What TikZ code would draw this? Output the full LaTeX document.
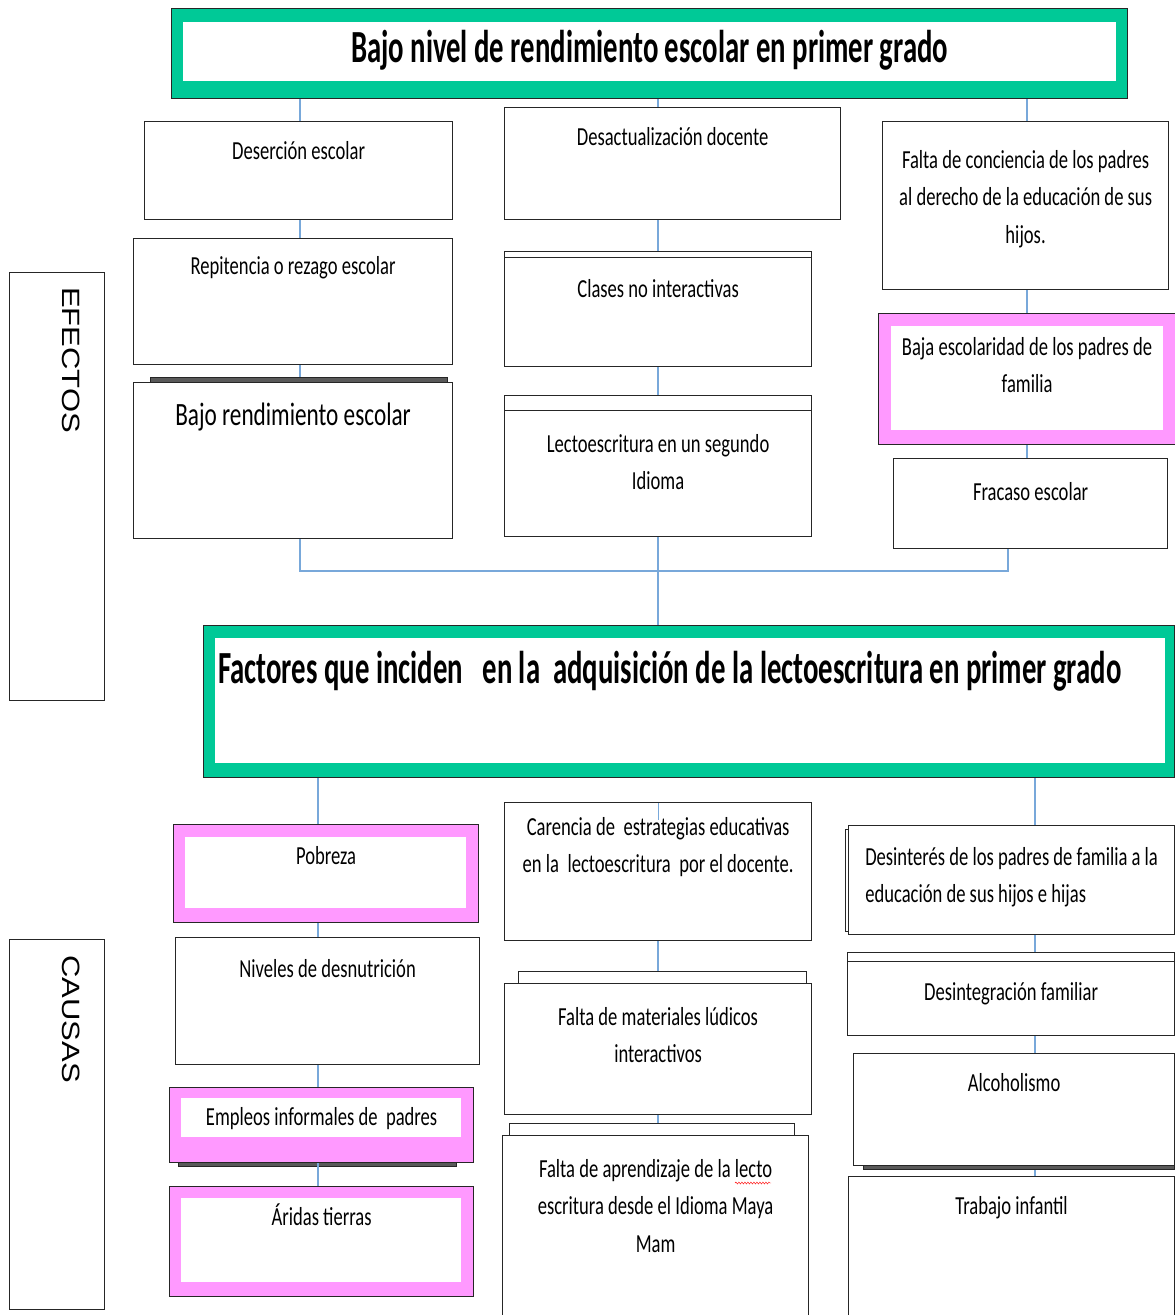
\documentclass[tikz,border=0pt]{standalone}
\usepackage{fontspec}
\setmainfont{Carlito}[FakeStretch=0.715]
\newfontfamily\headfont{Carlito}[FakeStretch=0.625]
\newfontfamily\sidefont{Liberation Sans}[FakeStretch=1.24]
\usetikzlibrary{decorations.pathmorphing}
\definecolor{titlegreen}{RGB}{0,201,151}
\definecolor{boxpink}{RGB}{255,153,255}
\definecolor{linkblue}{RGB}{120,168,218}

\begin{document}
\begin{tikzpicture}[x=1pt, y=-1pt,
  box/.style={draw=black!85, line width=1.2pt, fill=white, anchor=north west, inner sep=0pt},
  pinkbox/.style={box, fill=boxpink},
  greenbox/.style={box, fill=titlegreen},
  shadowbox/.style={box, fill=black!65},
  txt/.style={anchor=north, inner sep=0pt, align=center, font=\fontsize{26}{37.5}\selectfont},
  headtxt/.style={inner sep=0pt, font=\headfont\bfseries\fontsize{46}{50}\selectfont},
  sidetxt/.style={inner sep=0pt, rotate=-90, anchor=west, font=\sidefont\fontsize{25}{30}\selectfont},
  link/.style={draw=linkblue, line width=2pt}]
  \useasboundingbox (0,0) rectangle (1175,1315);

  % columns of the connectors
  \coordinate (colA) at (300,0);
  \coordinate (colB) at (658,0);
  \coordinate (colC) at (1027,0);
  \coordinate (colCb) at (1008,0);
  \coordinate (colD) at (318,0);
  \coordinate (colF) at (1035,0);
  \coordinate (join) at (658,571);

  % titles
  \node[greenbox, minimum width=956pt, minimum height=90pt] (title) at (171,8) {};
  \node[greenbox, minimum width=971pt, minimum height=152pt] (factores) at (203,625) {};

  % side labels
  \node[box, minimum width=95pt, minimum height=428pt] (efectos) at (9,272) {};
  \node[box, minimum width=95pt, minimum height=370pt] (causas) at (9,939) {};

  % efectos
  \node[box, minimum width=308pt, minimum height=98pt] (deser) at (144,121) {};
  \node[box, minimum width=319pt, minimum height=126pt] (repit) at (133,238) {};
  \node[shadowbox, minimum width=297pt, minimum height=7pt] (bajoback) at (150,377) {};
  \node[box, minimum width=319pt, minimum height=156pt] (bajo) at (133,382) {};
  \node[box, minimum width=336pt, minimum height=112pt] (desact) at (504,107) {};
  \node[box, minimum width=307pt, minimum height=50pt] (clasesback) at (504,251) {};
  \node[box, minimum width=307pt, minimum height=109pt] (clases) at (504,257) {};
  \node[box, minimum width=307pt, minimum height=107pt] (lectoback) at (504,395) {};
  \node[box, minimum width=307pt, minimum height=126pt] (lecto) at (504,410) {};
  \node[box, minimum width=286pt, minimum height=168pt] (concien) at (882,121) {};
  \node[pinkbox, minimum width=297pt, minimum height=131pt] (baja) at (878,313) {};
  \node[box, minimum width=274pt, minimum height=90pt] (fracaso) at (893,458) {};

  % causas
  \node[pinkbox, minimum width=305pt, minimum height=98pt] (pobreza) at (173,824) {};
  \node[box, minimum width=304pt, minimum height=127pt] (niveles) at (175,937) {};
  \node[shadowbox, minimum width=278pt, minimum height=8pt] (empleosback) at (178,1158) {};
  \node[pinkbox, minimum width=304pt, minimum height=75pt] (empleos) at (169,1087) {};
  \node[pinkbox, minimum width=304pt, minimum height=110pt] (aridas) at (169,1186) {};
  \node[box, minimum width=307pt, minimum height=138pt] (carencia) at (504,802) {};
  \node[box, minimum width=288pt, minimum height=40pt] (materialesback) at (518,971) {};
  \node[box, minimum width=307pt, minimum height=131pt] (materiales) at (504,983) {};
  \node[box, minimum width=285pt, minimum height=40pt] (aprendback) at (509,1123) {};
  \node[box, minimum width=306pt, minimum height=190pt] (aprend) at (502,1135) {};
  \node[box, minimum width=329pt, minimum height=102pt] (desinterback) at (845,829) {};
  \node[box, minimum width=326pt, minimum height=109pt] (desinter) at (848,825) {};
  \node[box, minimum width=327pt, minimum height=40pt] (desintegback) at (847,952) {};
  \node[box, minimum width=327pt, minimum height=74pt] (desinteg) at (847,961) {};
  \node[shadowbox, minimum width=311pt, minimum height=109pt] (alcoholback) at (863,1060) {};
  \node[box, minimum width=321pt, minimum height=112pt] (alcohol) at (853,1053) {};
  \node[box, minimum width=326pt, minimum height=150pt] (trabajo) at (848,1176) {};

  % white inside of the coloured frames
  \foreach \n/\l/\t/\r/\b in {title/12/14/12/18, factores/12/13/10/15,
    baja/13/13/13/15, pobreza/12/13/13/15, empleos/12/11/13/26, aridas/12/12/13/15} {
    \fill[white] ([shift={(\l,\t)}]\n.north west) rectangle ([shift={(-\r,-\b)}]\n.south east);
  }

  % connectors
  \draw[link] (title.south -| colA) -- (deser.north -| colA);
  \foreach \a/\b in {deser/repit, repit/bajoback}
    \draw[link] (\a.south -| colA) -- (\b.north -| colA);
  \draw[link] (title.south -| colB) -- (desact.north -| colB);
  \foreach \a/\b in {desact/clasesback, clases/lectoback}
    \draw[link] (\a.south -| colB) -- (\b.north -| colB);
  \draw[link] (title.south -| colC) -- (concien.north -| colC);
  \foreach \a/\b in {concien/baja, baja/fracaso}
    \draw[link] (\a.south -| colC) -- (\b.north -| colC);
  \draw[link, line width=2.5pt] (bajo.south -| colA) |- (join) -| (fracaso.south -| colCb);
  \draw[link] (lecto.south -| colB) -- (factores.north -| colB);
  \draw[link, line width=1pt] ([yshift=-25pt]factores.south -| colB) -- ([yshift=-18pt]carencia.north -| colB);
  \draw[link] (factores.south -| colD) -- (pobreza.north -| colD);
  \foreach \a/\b in {pobreza/niveles, niveles/empleos, empleos/aridas}
    \draw[link] (\a.south -| colD) -- (\b.north -| colD);
  \foreach \a/\b in {carencia/materialesback, materiales/aprendback}
    \draw[link] (\a.south -| colB) -- (\b.north -| colB);
  \draw[link] (factores.south -| colF) -- (desinter.north -| colF);
  \foreach \a/\b in {desinter/desintegback, desinteg/alcohol, alcoholback/trabajo}
    \draw[link] (\a.south -| colF) -- (\b.north -| colF);

  % texts
  \node[headtxt, anchor=north] (titlet) at ([yshift=-22pt]title.north) {Bajo nivel de rendimiento escolar en primer grado};
  \node[headtxt, anchor=north west] (factorest) at ([shift={(15,26)}]factores.north west) {Factores que inciden\ \ \ en la\ \ adquisición de la lectoescritura en primer grado};
  \node[sidetxt] (efectost) at ([shift={(14.5,15)}]efectos.north) {EFECTOS};
  \node[sidetxt] (causast) at ([shift={(14.5,16)}]causas.north) {CAUSAS};
  \node[txt] (desert) at ([yshift=-20pt]deser.north) {Deserción escolar};
  \node[txt] (repitt) at ([yshift=-18pt]repit.north) {Repitencia o rezago escolar};
  \node[txt, font=\fontsize{32.5}{40}\selectfont] (bajot) at ([yshift=-21pt]bajo.north) {Bajo rendimiento escolar};
  \node[txt] (desactt) at ([yshift=-20pt]desact.north) {Desactualización docente};
  \node[txt] (clasest) at ([yshift=-22pt]clases.north) {Clases no interactivas};
  \node[txt] (lectot) at ([yshift=-24pt]lecto.north) {Lectoescritura en un segundo\\Idioma};
  \node[txt] (concient) at ([yshift=-29pt]concien.north) {Falta de conciencia de los padres\\al derecho de la educación de sus\\hijos.};
  \node[txt] (bajat) at ([yshift=-24pt]baja.north) {Baja escolaridad de los padres de\\familia};
  \node[txt] (fracasot) at ([yshift=-24pt]fracaso.north) {Fracaso escolar};
  \node[txt] (pobrezat) at ([yshift=-22pt]pobreza.north) {Pobreza};
  \node[txt] (nivelest) at ([yshift=-22pt]niveles.north) {Niveles de desnutrición};
  \node[txt] (empleost) at ([yshift=-20pt]empleos.north) {Empleos informales de\ \ padres};
  \node[txt] (aridast) at ([yshift=-18pt]aridas.north) {Áridas tierras};
  \node[txt] (carenciat) at ([yshift=-15pt]carencia.north) {Carencia de\ \ estrategias educativas\\en la\ \ lectoescritura\ \ por el docente.};
  \node[txt] (materialest) at ([yshift=-24pt]materiales.north) {Falta de materiales lúdicos\\interactivos};
  \node[txt] (aprendt) at ([yshift=-24pt]aprend.north) {Falta de aprendizaje de la lecto\\escritura desde el Idioma Maya\\Mam};
  \node[txt, align=left] (desintert) at ([yshift=-22pt]desinter.north) {Desinterés de los padres de familia a la\\educación de sus hijos e hijas};
  \node[txt] (desintegt) at ([yshift=-21pt]desinteg.north) {Desintegración familiar};
  \node[txt] (alcoholt) at ([yshift=-20pt]alcohol.north) {Alcoholismo};
  \node[txt] (trabajot) at ([yshift=-20pt]trabajo.north) {Trabajo infantil};
  \draw[red, decorate, decoration={snake, amplitude=1pt, segment length=3pt}] (735,1183) -- (771,1183);
\end{tikzpicture}
\end{document}
